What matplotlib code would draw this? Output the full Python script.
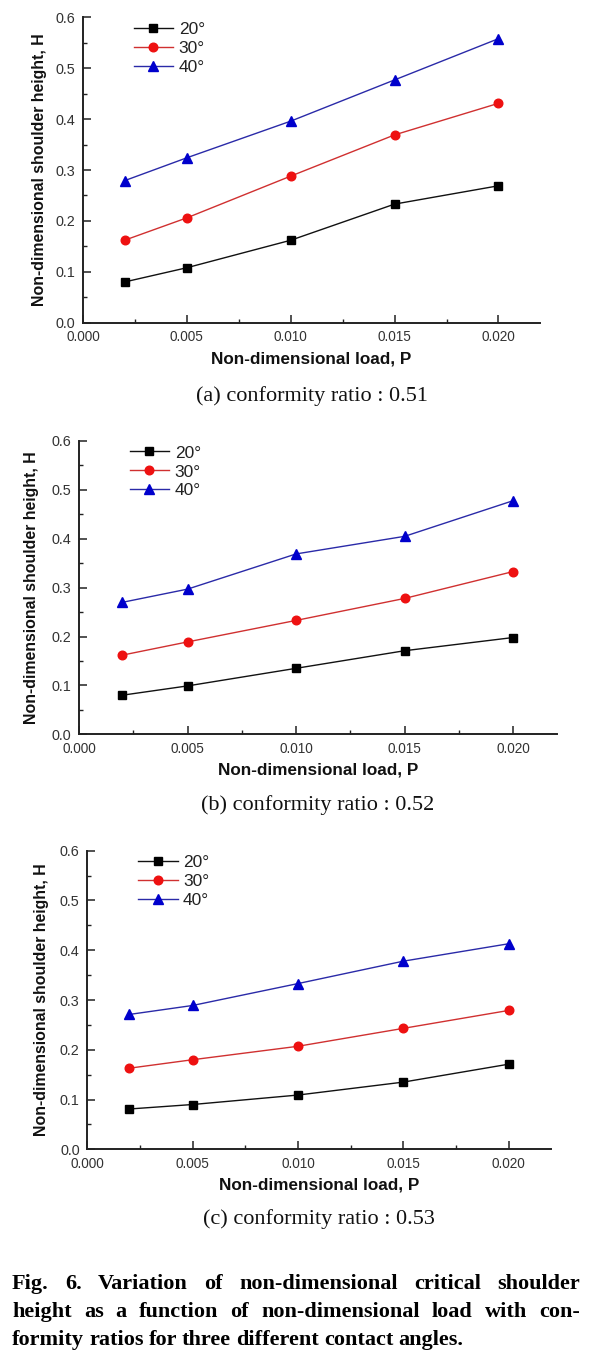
import matplotlib
matplotlib.use("Agg")
import matplotlib.pyplot as plt
from matplotlib.ticker import MultipleLocator, FormatStrFormatter

# ---------------- data ----------------
load_P = [0.002, 0.005, 0.010, 0.015, 0.020]
angle_labels = ["20°", "30°", "40°"]

# (a) conformity ratio 0.51
H_a_20 = [0.080, 0.108, 0.162, 0.233, 0.269]
H_a_30 = [0.162, 0.206, 0.288, 0.369, 0.431]
H_a_40 = [0.279, 0.324, 0.396, 0.477, 0.558]
# (b) conformity ratio 0.52
H_b_20 = [0.080, 0.099, 0.135, 0.171, 0.198]
H_b_30 = [0.162, 0.189, 0.233, 0.278, 0.333]
H_b_40 = [0.270, 0.297, 0.369, 0.405, 0.478]
# (c) conformity ratio 0.53
H_c_20 = [0.081, 0.090, 0.109, 0.135, 0.171]
H_c_30 = [0.163, 0.180, 0.207, 0.243, 0.279]
H_c_40 = [0.271, 0.289, 0.333, 0.378, 0.413]

panel_captions = ["(a) conformity ratio : 0.51",
                  "(b) conformity ratio : 0.52",
                  "(c) conformity ratio : 0.53"]
xlabel = "Non-dimensional load, P"
ylabel = "Non-dimensional shoulder height, H"
fig_caption_lines = ["Fig. 6. Variation of non-dimensional critical shoulder",
                     "height as a function of non-dimensional load with con-",
                     "formity ratios for three different contact angles."]

# ---------------- layout ----------------
W, H = 595, 1358
fig = plt.figure(figsize=(W / 100, H / 100), dpi=100)

# axes boxes in pixels: left, right, top, bottom
boxes = [(83, 540, 17.3, 322.7),
         (79, 556.7, 441, 734.3),
         (87.3, 550.7, 850.7, 1149.3)]
ylabel_off = [36, 40, 38]
caption_y = [396, 805, 1219]

series = [(H_a_20, H_a_30, H_a_40),
          (H_b_20, H_b_30, H_b_40),
          (H_c_20, H_c_30, H_c_40)]

line_colors = ["#111111", "#d03030", "#2a2aa8"]
marker_colors = ["#000000", "#ee1111", "#0000cc"]
markers = ["s", "o", "^"]
msizes = [5.6, 6.2, 6.8]

sans = "Liberation Sans"
serif = "Liberation Serif"
axcol = "#222222"
tickcol = "#333333"

for i, (l, r, t, b) in enumerate(boxes):
    ax = fig.add_axes([l / W, (H - b) / H, (r - l) / W, (b - t) / H])
    for k, yvals in enumerate(series[i]):
        ax.plot(load_P, yvals, color=line_colors[k], lw=1.0,
                marker=markers[k], ms=msizes[k], mfc=marker_colors[k],
                mec=marker_colors[k], label=angle_labels[k])
    ax.set_xlim(0, 0.022)
    ax.set_ylim(0, 0.6)
    ax.xaxis.set_major_locator(MultipleLocator(0.005))
    ax.xaxis.set_minor_locator(MultipleLocator(0.0025))
    ax.yaxis.set_major_locator(MultipleLocator(0.1))
    ax.yaxis.set_minor_locator(MultipleLocator(0.05))
    ax.xaxis.set_major_formatter(FormatStrFormatter("%.3f"))
    ax.yaxis.set_major_formatter(FormatStrFormatter("%.1f"))
    for s in ["top", "right"]:
        ax.spines[s].set_visible(False)
    for s in ["left", "bottom"]:
        ax.spines[s].set_color(axcol)
        ax.spines[s].set_linewidth(1.4)
    ax.tick_params(which="major", direction="in", length=6, width=1.1,
                   color=axcol, labelcolor=tickcol, pad=5.5)
    ax.tick_params(axis="x", which="major", labelsize=9.8)
    ax.tick_params(axis="y", which="major", labelsize=10.4)
    ax.tick_params(which="minor", direction="in", length=3, width=1.0,
                   color=axcol)
    for lab in ax.get_xticklabels() + ax.get_yticklabels():
        lab.set_fontfamily(sans)
    ax.set_xlabel(xlabel, fontsize=12.3, fontweight="bold", family=sans,
                  color="#111111")
    ax.set_ylabel(ylabel, fontsize=11.4, fontweight="bold", family=sans,
                  color="#111111")
    ax.xaxis.set_label_coords(0.5, -28.5 / (b - t))
    ax.yaxis.set_label_coords(-ylabel_off[i] / (r - l), 0.5)
    leg = ax.legend(loc="upper left",
                    bbox_to_anchor=(50.5 / (r - l), 0.985),
                    frameon=False, borderpad=0, borderaxespad=0,
                    handlelength=2.3, handletextpad=0.3, labelspacing=0.22,
                    prop={"family": sans, "size": 12.5})
    for txt in leg.get_texts():
        txt.set_color("#222222")
    cx = ((l + r) / 2) / W
    fig.text(cx, 1 - caption_y[i] / H, panel_captions[i], ha="center",
             va="center", family=serif, fontsize=16, color="#111111")

# ---------------- justified figure caption ----------------
fig.canvas.draw()
renderer = fig.canvas.get_renderer()
cap_left, cap_right = 12, 580
cap_ys = [1284, 1312, 1340]
for j, line in enumerate(fig_caption_lines):
    words = line.split(" ")
    objs = [fig.text(0, 1 - cap_ys[j] / H, w, ha="left", va="center",
                     family=serif, fontweight="bold", fontsize=16,
                     color="#000000") for w in words]
    widths = [o.get_window_extent(renderer).width for o in objs]
    space = objs[0].get_window_extent(renderer).height * 0.25
    if j < len(fig_caption_lines) - 1:
        gap = (cap_right - cap_left - sum(widths)) / (len(words) - 1)
    else:
        gap = space
    x = cap_left
    for o, w in zip(objs, widths):
        o.set_x(x / W)
        x += w + gap

fig.savefig("out.png", dpi=100)
